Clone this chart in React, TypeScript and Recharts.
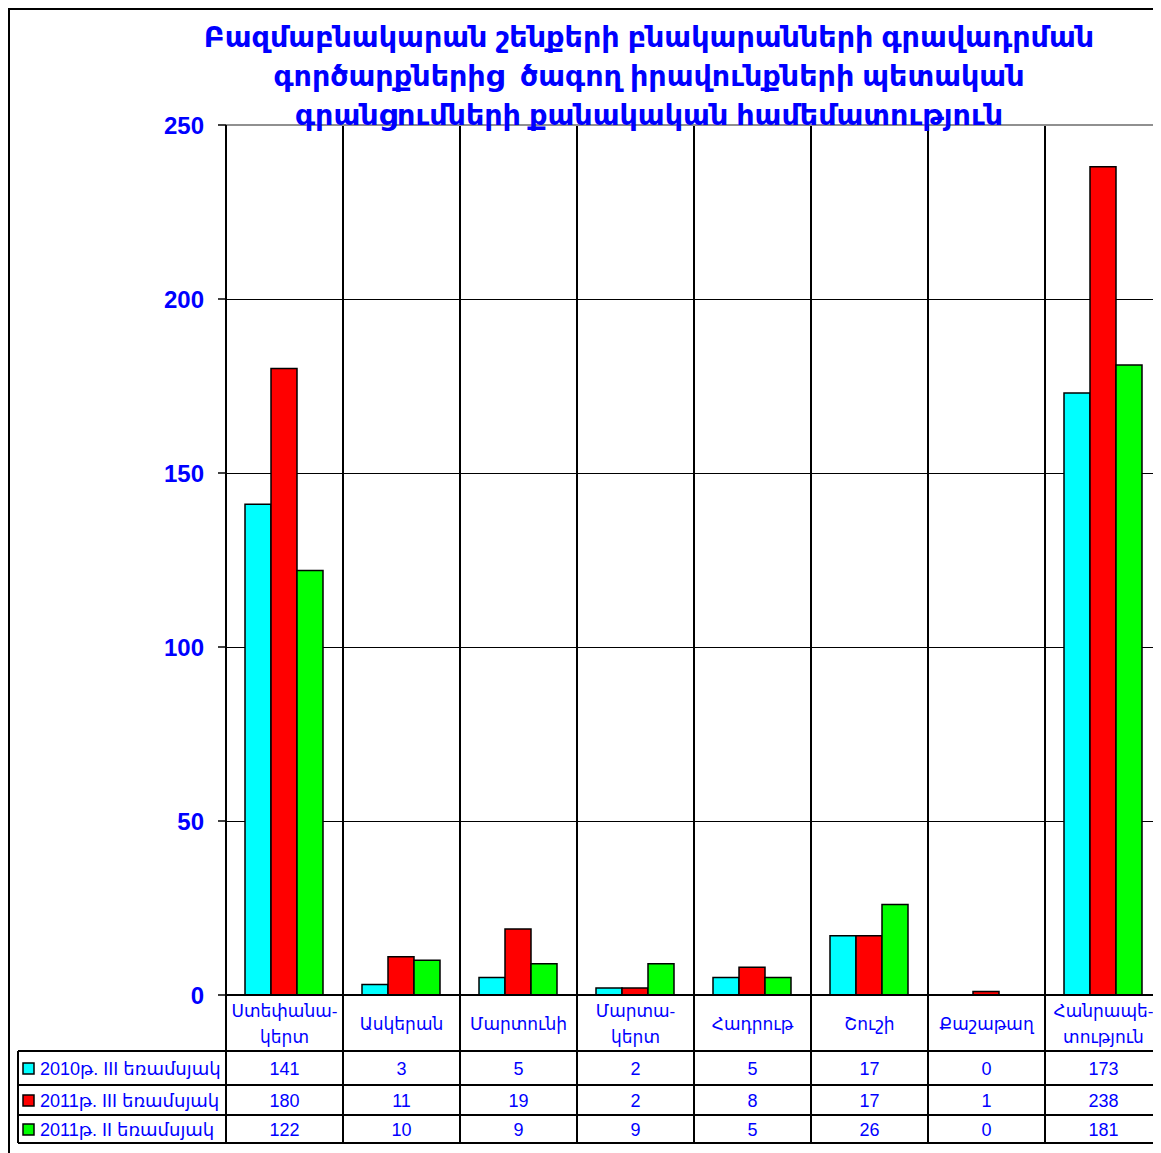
import React from "react";
import {
  Bar,
  BarChart,
  CartesianGrid,
  ReferenceLine,
  XAxis,
  YAxis,
} from "recharts";

const titleLines = [
  "Բազմաբնակարան շենքերի բնակարանների գրավադրման",
  "գործարքներից  ծագող իրավունքների պետական",
  "գրանցումների քանակական համեմատություն",
];

const categories = [
  "Ստեփանա-\nկերտ",
  "Ասկերան",
  "Մարտունի",
  "Մարտա-\nկերտ",
  "Հադրութ",
  "Շուշի",
  "Քաշաթաղ",
  "Հանրապե-\nտություն",
];

const q3_2010 = [141, 3, 5, 2, 5, 17, 0, 173];
const q3_2011 = [180, 11, 19, 2, 8, 17, 1, 238];
const q2_2011 = [122, 10, 9, 9, 5, 26, 0, 181];

const seriesNames = ["2010թ. III եռամսյակ", "2011թ. III եռամսյակ", "2011թ. II եռամսյակ"];
const seriesColors = ["#00ffff", "#ff0000", "#00ff00"];
const yTicks = [0, 50, 100, 150, 200, 250];

const data = categories.map((name, i) => ({
  name,
  a: q3_2010[i],
  b: q3_2011[i],
  c: q2_2011[i],
}));
const seriesValues = [q3_2010, q3_2011, q2_2011];

const FONT = "Arial, 'Liberation Sans', 'DejaVu Sans', sans-serif";
const BLUE = "#0000ff";

// table rows below the axis, offsets from the axis line
const ROW_LINES = [56, 90, 120, 148];
const ROW_MID = [74, 106, 135];

function TableTick(props: any) {
  const { x, y, payload, width, visibleTicksCount } = props;
  const band = width / visibleTicksCount;
  const i = payload.index;
  const left = x - band / 2;
  const right = x + band / 2;
  const lines = String(payload.value).split("\n");
  const bottom = y + ROW_LINES[3];
  return (
    <g>
      <line x1={right} y1={y} x2={right} y2={bottom} stroke="#000" strokeWidth={2} />
      {i === 0 && (
        <g>
          <line x1={left} y1={y} x2={left} y2={bottom} stroke="#000" strokeWidth={2} />
          <line x1={8} y1={y + ROW_LINES[0]} x2={8} y2={bottom} stroke="#000" strokeWidth={2} />
          {ROW_LINES.map((d) => (
            <line key={d} x1={8} y1={y + d} x2={left} y2={y + d} stroke="#000" strokeWidth={2} />
          ))}
          {seriesNames.map((s, k) => (
            <g key={s}>
              <rect
                x={13}
                y={y + ROW_MID[k] - 6}
                width={11}
                height={11}
                fill={seriesColors[k]}
                stroke="#000"
                strokeWidth={1.5}
              />
              <text
                x={30}
                y={y + ROW_MID[k]}
                dy="0.35em"
                fill={BLUE}
                fontSize={18}
                fontFamily={FONT}
              >
                {s}
              </text>
            </g>
          ))}
        </g>
      )}
      {ROW_LINES.map((d) => (
        <line key={d} x1={left} y1={y + d} x2={right} y2={y + d} stroke="#000" strokeWidth={2} />
      ))}
      {lines.map((l, k) => (
        <text
          key={k}
          x={x}
          y={lines.length === 1 ? y + 29 : y + 16 + k * 26}
          dy="0.35em"
          textAnchor="middle"
          fill={BLUE}
          fontSize={17}
          fontFamily={FONT}
        >
          {l}
        </text>
      ))}
      {seriesValues.map((vals, k) => (
        <text
          key={k}
          x={x}
          y={y + ROW_MID[k]}
          dy="0.35em"
          textAnchor="middle"
          fill={BLUE}
          fontSize={18}
          fontFamily={FONT}
        >
          {vals[i]}
        </text>
      ))}
    </g>
  );
}

export default function App() {
  return (
    <div
      style={{
        position: "relative",
        width: 1153,
        height: 1145,
        overflow: "hidden",
        borderLeft: "2px solid #000",
        borderTop: "2px solid #000",
        boxSizing: "border-box",
        background: "#fff",
      }}
    >
      <BarChart
        width={1160}
        height={1143}
        data={data}
        margin={{ top: 115, right: 8, bottom: 3, left: 0 }}
        barCategoryGap={19}
        barGap={0}
      >
        <CartesianGrid vertical={false} stroke="#000" strokeWidth={1} shapeRendering="crispEdges" />
        <CartesianGrid
          horizontal={false}
          stroke="#000"
          strokeWidth={2}
          verticalCoordinatesGenerator={({ offset }: any) =>
            categories.map((_, k) => offset.left + ((k + 1) * offset.width) / categories.length)
          }
        />
        <ReferenceLine y={250} stroke="#909090" strokeWidth={2} />
        <XAxis
          dataKey="name"
          interval={0}
          height={155}
          tickSize={0}
          tickMargin={0}
          tickLine={false}
          axisLine={{ stroke: "#000", strokeWidth: 2 }}
          tick={<TableTick />}
        />
        <YAxis
          width={216}
          domain={[0, 250]}
          ticks={yTicks}
          tickSize={8}
          tickMargin={14}
          axisLine={{ stroke: "#000", strokeWidth: 2 }}
          tickLine={{ stroke: "#000", strokeWidth: 1.5 }}
          tick={{ fill: BLUE, fontSize: 24, fontWeight: "bold", fontFamily: FONT }}
        />
        <Bar dataKey="a" fill={seriesColors[0]} stroke="#000" strokeWidth={1.5} isAnimationActive={false} />
        <Bar dataKey="b" fill={seriesColors[1]} stroke="#000" strokeWidth={1.5} isAnimationActive={false} />
        <Bar dataKey="c" fill={seriesColors[2]} stroke="#000" strokeWidth={1.5} isAnimationActive={false} />
      </BarChart>
      <div
        style={{
          position: "absolute",
          left: 139,
          top: 8,
          width: 1000,
          textAlign: "center",
          color: BLUE,
          fontFamily: FONT,
          fontSize: 28.6,
          fontWeight: "bold",
          lineHeight: "39px",
          whiteSpace: "pre",
          pointerEvents: "none",
        }}
      >
        {titleLines.map((t) => (
          <div key={t}>{t}</div>
        ))}
      </div>
    </div>
  );
}
